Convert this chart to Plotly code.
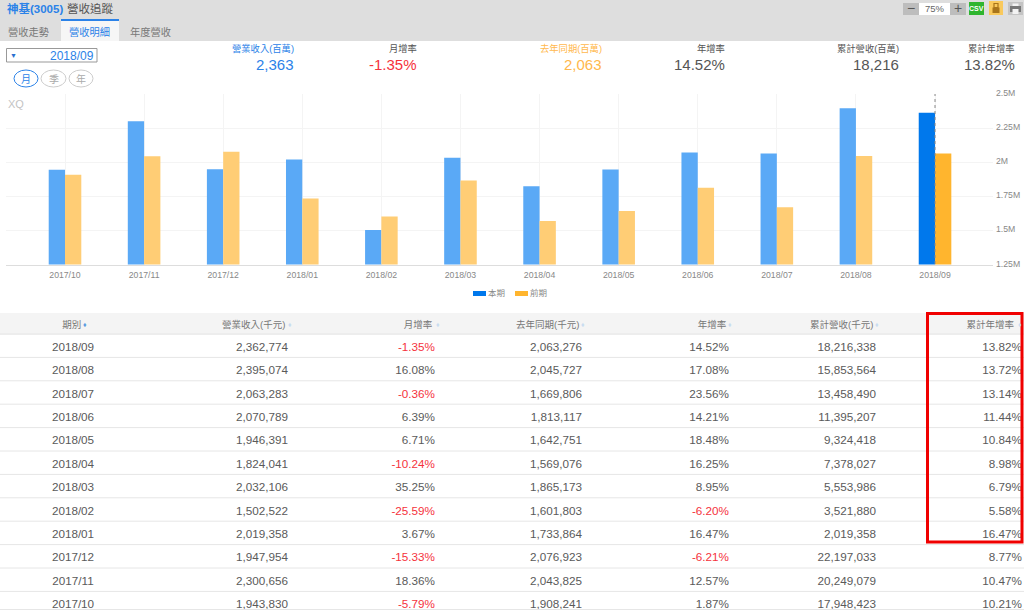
import plotly.graph_objects as go

# 畫布比視窗略大,最右與最下由視窗裁切
W, H = 1030, 616
FONT = "Liberation Sans, Noto Sans CJK TC, sans-serif"

# 資料
periods = ["2018/09", "2018/08", "2018/07", "2018/06", "2018/05", "2018/04",
           "2018/03", "2018/02", "2018/01", "2017/12", "2017/11", "2017/10"]
revenue = [2362774, 2395074, 2063283, 2070789, 1946391, 1824041,
           2032106, 1502522, 2019358, 1947954, 2300656, 1943830]
mom = [-1.35, 16.08, -0.36, 6.39, 6.71, -10.24, 35.25, -25.59, 3.67, -15.33, 18.36, -5.79]
last_year = [2063276, 2045727, 1669806, 1813117, 1642751, 1569076,
             1865173, 1601803, 1733864, 2076923, 2043825, 1908241]
yoy = [14.52, 17.08, 23.56, 14.21, 18.48, 16.25, 8.95, -6.20, 16.47, -6.21, 12.57, 1.87]
cumulative = [18216338, 15853564, 13458490, 11395207, 9324418, 7378027,
              5553986, 3521880, 2019358, 22197033, 20249079, 17948423]
cum_yoy = [13.82, 13.72, 13.14, 11.44, 10.84, 8.98, 6.79, 5.58, 16.47, 8.77, 10.47, 10.21]

y_ticks = [1250000, 1500000, 1750000, 2000000, 2250000, 2500000]
y_labels = ["1.25M", "1.5M", "1.75M", "2M", "2.25M", "2.5M"]

kpi_labels = ["營業收入(百萬)", "月增率", "去年同期(百萬)", "年增率", "累計營收(百萬)", "累計年增率"]
kpi_values = ["2,363", "-1.35%", "2,063", "14.52%", "18,216", "13.82%"]
kpi_colors = ["#2b82e8", "#f5323c", "#ffb84d", "#555555", "#555555", "#555555"]
kpi_right = [294, 417, 602, 725, 899, 1015]

headers = ["期別", "營業收入(千元)", "月增率", "去年同期(千元)", "年增率", "累計營收(千元)", "累計年增率"]
header_pad = [1, 1, 1, 1, 1, 1, 3]
sort_x = [85, 289.5, 437.5, 583, 730, 877, 1020]


def px(x):
    return x / W


def py(y):
    return 1 - y / H


def rect(x0, y0, x1, y1, fill=None, line=None, width=1, layer="below"):
    return dict(type="rect", xref="paper", yref="paper", x0=px(x0), x1=px(x1), y0=py(y0), y1=py(y1),
                fillcolor=fill, line=dict(color=line, width=width if line else 0), layer=layer)


def pill(x0, y0, x1, y1, line, width=1):
    return dict(type="circle", xref="paper", yref="paper", x0=px(x0), x1=px(x1), y0=py(y0), y1=py(y1),
                line=dict(color=line, width=width))


def rule(y, color="#e6e6e6"):
    return dict(type="line", xref="paper", yref="paper", x0=0, x1=1, y0=py(y), y1=py(y),
                line=dict(color=color, width=1), layer="above")


def label(x, y, text, size=10, color="#777777", anchor="left"):
    return dict(xref="paper", yref="paper", x=px(x), y=py(y), text=text, showarrow=False,
                borderpad=0, borderwidth=0,
                xanchor=anchor, yanchor="middle", font=dict(size=size, color=color, family=FONT))


def fmt(values):
    return [f"{v:,}" for v in values]


def pct(values):
    return [f"{v:.2f}%" for v in values]


def pct_colors(values):
    return ["#f5323c" if v < 0 else "#5a5a5a" for v in values]


fig = go.Figure()

# 圖表是由舊到新
cats = periods[::-1]
cur_colors = ["#5aa9f6"] * 11 + ["#0078ec"]
prev_colors = ["#ffcd75"] * 11 + ["#ffb52e"]

fig.add_trace(go.Bar(x=cats, y=revenue[::-1], name="本期", marker=dict(color=cur_colors, line_width=0),
                     showlegend=False))
fig.add_trace(go.Bar(x=cats, y=last_year[::-1], name="前期", marker=dict(color=prev_colors, line_width=0),
                     showlegend=False))

# 表格
rows = [periods, fmt(revenue), pct(mom), fmt(last_year), pct(yoy), fmt(cumulative), pct(cum_yoy)]
body_colors = ["#5a5a5a", "#5a5a5a", pct_colors(mom), "#5a5a5a", pct_colors(yoy), "#5a5a5a", "#5a5a5a"]
fig.add_trace(go.Table(
    domain=dict(x=[0, 1], y=[0, py(313)]),
    columnwidth=[146, 150, 147, 147, 147, 147, 146],
    header=dict(values=[h + "\u00a0" * n for h, n in zip(headers, header_pad)],
                height=21,
                align=["center"] + ["right"] * 6,
                fill_color="#f4f4f4",
                line=dict(color="#f4f4f4", width=1),
                font=dict(size=9.5, color="#777777", family=FONT)),
    cells=dict(values=rows,
               height=23.4,
               align=["center"] + ["right"] * 6,
               fill_color="#ffffff",
               line=dict(color="#ffffff", width=1),
               font=dict(size=11.7, color=body_colors, family=FONT)),
))

shapes = [
    # 上方工具列
    rect(0, 0, W, 41, fill="#dedede"),
    rect(61, 21, 119, 41, fill="#f6f6f6"),
    rect(61, 19, 119, 21, fill="#2b82e8"),
    rect(903, 3, 919, 15, fill="#bdbdbd"),
    rect(919, 3, 950, 15, fill="#ffffff"),
    rect(950, 3, 966, 15, fill="#bdbdbd"),
    rect(969, 2, 984, 15, fill="#2fb52f"),
    rect(989, 1, 1003, 15, fill="#f9c95c"),
    rect(992.5, 7.5, 999.5, 13, fill="#a8741a"),
    rect(994, 3.5, 998, 7.5, line="#a8741a", width=1.2),
    rect(1008, 2, 1023, 15, fill="#c4c4c4"),
    rect(1010, 6, 1021, 12, fill="#777777"),
    rect(1012.5, 3.5, 1018.5, 6, fill="#f2f2f2"),
    rect(1012.5, 9, 1018.5, 14, fill="#f2f2f2"),
    # 日期選單
    rect(6.5, 48.5, 97, 62, fill="#ffffff", line="#999999"),
    pill(14, 70, 38, 87, "#2b82e8"),
    pill(41, 70, 66, 87, "#cccccc"),
    pill(69, 70, 93, 87, "#cccccc"),
    # 目前游標
    dict(type="line", xref="x", yref="paper", x0=cats[-1], x1=cats[-1], y0=py(264), y1=py(94),
         line=dict(color="#888888", width=1, dash="dot"), layer="above"),
    # 圖例
    rect(473, 291, 486, 296, fill="#0078ec"),
    rect(515, 291, 528, 296, fill="#ffb52e"),
]

# 表格橫線與底部空白
shapes += [rule(334 + i * 23.4) for i in range(12)]
shapes.append(rect(0, 609.5, W, H, fill="#ffffff", layer="above"))
shapes.append(rule(609.5))
# 紅框
shapes.append(rect(927.5, 313.5, 1022, 542, line="#f00000", width=3, layer="above"))

annotations = [
    label(7, 8, "<b>神基(3005)</b>", 11.5, "#2b82e8"),
    label(67, 8, "營收追蹤", 11.5, "#555555"),
    label(8, 32, "營收走勢", 10.25, "#777777"),
    label(69, 32, "營收明細", 10.25, "#2b82e8"),
    label(130, 32, "年度營收", 10.25, "#777777"),
    label(934.5, 8, "75%", 9.5, "#666666", "center"),
    label(911, 8, "−", 14, "#555555", "center"),
    label(958, 8, "+", 14, "#555555", "center"),
    label(976.5, 8.5, "<b>CSV</b>", 7, "#ffffff", "center"),
    label(13, 55, "▼", 7, "#2b6fd0", "center"),
    label(94, 55.5, "2018/09", 12, "#2b82e8", "right"),
    label(26, 79, "月", 10, "#2b82e8", "center"),
    label(53.5, 79, "季", 10, "#aaaaaa", "center"),
    label(81, 79, "年", 10, "#aaaaaa", "center"),
    label(8, 104, "XQ", 11, "#c4c4c4"),
    label(488, 293, "本期", 8.5, "#888888"),
    label(530, 293, "前期", 8.5, "#888888"),
]
for name, val, color, right in zip(kpi_labels, kpi_values, kpi_colors, kpi_right):
    annotations.append(label(right, 48, name, 9.3, color if color != "#f5323c" else "#555555", "right"))
    annotations.append(label(right, 64, val, 15, color, "right"))
for i, x in enumerate(sort_x):
    annotations.append(label(x, 324, "♦", 7, "#5a9be0" if i == 0 else "#c9dcf0", "center"))

fig.update_layout(
    width=W, height=H,
    margin=dict(l=0, r=0, t=0, b=0, autoexpand=False),
    paper_bgcolor="#ffffff",
    plot_bgcolor="#ffffff",
    barmode="group",
    bargap=0.588,
    bargroupgap=0,
    font=dict(family=FONT),
    shapes=shapes,
    annotations=annotations,
    xaxis=dict(domain=[px(6), px(993)],
               range=[-0.746, 11.733],
               type="category",
               showgrid=True, gridcolor="#f4f4f4",
               showline=True, linecolor="#dddddd", linewidth=1,
               ticks="", ticklabelstandoff=2,
               tickfont=dict(size=8.7, color="#888888", family=FONT)),
    yaxis=dict(domain=[py(264.5), py(94)],
               range=[1250000, 2500000],
               side="right",
               tickvals=y_ticks, ticktext=y_labels,
               showgrid=True, gridcolor="#f4f4f4",
               zeroline=False, ticks="",
               ticklabelstandoff=2, ticklabelshift=-1,
               tickfont=dict(size=8.7, color="#888888", family=FONT)),
)

# 頁面不留邊,圖貼齊視窗左上角
pin = ("document.body.style.margin='0';"
       "var gd=document.getElementById('{plot_id}');"
       "gd.style.position='fixed';gd.style.left='0';gd.style.top='0';")
fig.write_html("out.html", post_script=pin, config=dict(displayModeBar=False))
